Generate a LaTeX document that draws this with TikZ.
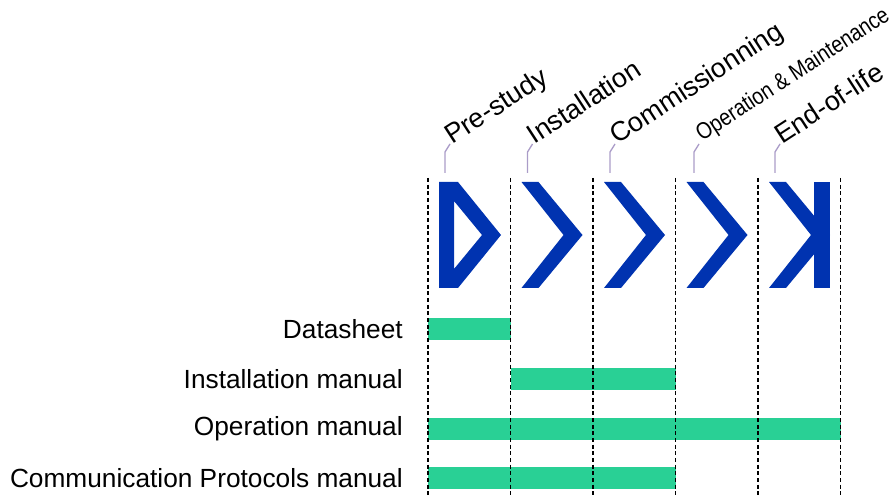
\documentclass[tikz,border=0pt]{standalone}
\usepackage{fontspec}
\setmainfont{Liberation Sans}
\usepackage{graphicx}
\usetikzlibrary{positioning}

\definecolor{phaseblue}{RGB}{0,51,176}
\definecolor{docgreen}{RGB}{41,208,149}
\definecolor{tickpurple}{RGB}{170,156,200}

\tikzset{
  phase/.style={fill=phaseblue},
  colline/.style={densely dashed, line width=1pt},
  docbar/.style={fill=docgreen},
  phaselabel/.style={anchor=base west, rotate=33, inner sep=0pt, font=\fontsize{20.3}{23}\selectfont},
  doclabel/.style={anchor=east, inner sep=0pt, font=\fontsize{19.7}{22}\selectfont},
  callout/.style={draw=tickpurple, line width=1pt}
}

\begin{document}
\begin{tikzpicture}[x=0.75pt, y=-0.75pt]
  \useasboundingbox (0,0) rectangle (896,495);
  \foreach \i/\txt in {0/Pre-study, 1/Installation, 2/Commissionning,
      4/End-of-life} {
    \draw[callout] (445+82.5*\i,173) -- (445+82.5*\i,152) -- (450+82.5*\i,144);
    \node[phaselabel] (ph\i) at (452+82.5*\i,145) {\txt};
  }
  \draw[callout] (694,173) -- (694,152) -- (699,144);
  \node[phaselabel, font=\fontsize{17.5}{20}\selectfont] (ph3) at (702,142)
    {\scalebox{0.85}[1]{Operation \& Maintenance}};
  \fill[phase, even odd rule] (439,182) -- (458,182) -- (501,235) -- (458,288)
    -- (439,288) -- cycle (454,201) -- (482,235) -- (454,269) -- cycle;
  \foreach \i in {1,2,3,4}
    \fill[phase] (439+82.5*\i,182) -- (456+82.5*\i,182) -- (500+82.5*\i,235)
      -- (456+82.5*\i,288) -- (439+82.5*\i,288) -- (481+82.5*\i,235) -- cycle;
  \fill[phase] (814,182) rectangle (830,288);
  \foreach \y/\a/\b/\txt in {329/0/1/Datasheet, 379/1/3/Installation manual,
      429/0/5/Operation manual, 478/0/3/Communication Protocols manual} {
    \fill[docbar] (428+82.5*\a,\y-11) rectangle (428+82.5*\b,\y+11);
    \node[doclabel] (doc\y) at (403,\y) {\txt};
  }
  \foreach \i in {0,...,5}
    \draw[colline] (428+82.5*\i,178) -- (428+82.5*\i,495);
\end{tikzpicture}
\end{document}
